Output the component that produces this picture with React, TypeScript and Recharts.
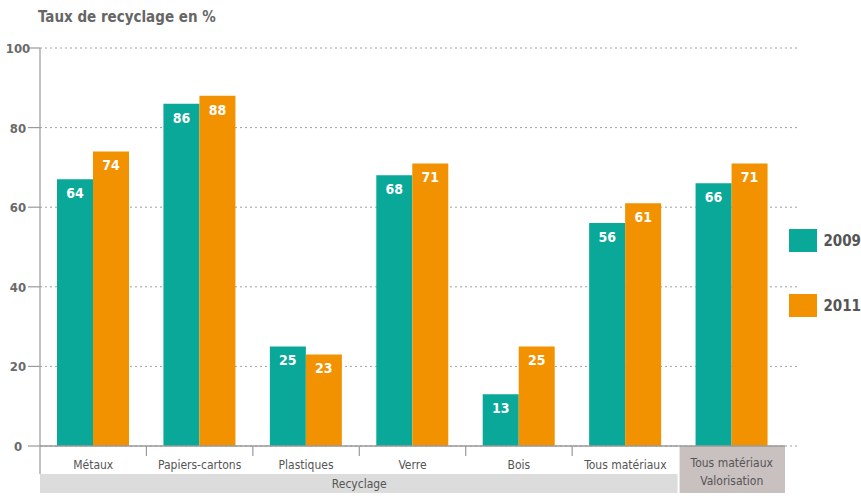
import React from "react";
import {BarChart, Bar, XAxis, YAxis, CartesianGrid, LabelList, Legend} from "recharts";

const categories = ["Métaux", "Papiers-cartons", "Plastiques", "Verre", "Bois", "Tous matériaux", "Tous matériaux|Valorisation"];
const values2009 = [67, 86, 25, 68, 13, 56, 66];
const labels2009 = [64, 86, 25, 68, 13, 56, 66];
const values2011 = [74, 88, 23, 71, 25, 61, 71];
const yTicks = [0, 20, 40, 60, 80, 100];
const groupLabel = "Recyclage";

const W = 861;
const H = 496;
const TOP = 48;
const BOTTOM = 446;
const LEFT = 40;
const RIGHT_END = 785;
const BAND = (RIGHT_END - LEFT) / categories.length;
const FONT = "'Liberation Sans Narrow', 'DejaVu Sans Condensed', sans-serif";
const TEAL = "#0aa898";
const ORANGE = "#f39200";

const data = categories.map((c, i) => ({
    name: c,
    v2009: values2009[i],
    l2009: labels2009[i],
    v2011: values2011[i],
}));

const YTick = (props: any) => {
    const {y, payload} = props;
    return (
        <g>
            <line x1={28} x2={LEFT} y1={y} y2={y} stroke="#9a9a9a" strokeWidth={1.2} />
            <text x={18} y={y} dy={5} textAnchor="middle" fontFamily={FONT} fontSize={13} fontWeight="bold" fill="#6a6a6a">
                {payload.value}
            </text>
        </g>
    );
};

const XTick = (props: any) => {
    const {x, payload, index} = props;
    const left = x - BAND / 2;
    const lines = String(payload.value).split("|");
    const last = index === categories.length - 1;
    return (
        <g>
            {index === 0 && (
                <g>
                    <rect x={left} y={474} width={BAND * 6 - 1} height={19} fill="#dcdcdc" />
                    <text x={left + BAND * 3} y={488} textAnchor="middle" fontFamily={FONT} fontSize={12} fill="#555">
                        {groupLabel}
                    </text>
                    <line x1={left} x2={left} y1={BOTTOM} y2={474} stroke="#9a9a9a" strokeWidth={1.2} />
                </g>
            )}
            {last && <rect x={left + 1} y={BOTTOM} width={BAND - 1} height={47} fill="#c9c0c0" />}
            {index > 0 && !last && <line x1={left} x2={left} y1={BOTTOM} y2={BOTTOM + 10} stroke="#9a9a9a" strokeWidth={1.2} />}
            <line x1={left} x2={left + BAND} y1={BOTTOM} y2={BOTTOM} stroke="#9a9a9a" strokeWidth={1.4} />
            {lines.length === 1 ? (
                <text x={x} y={469} textAnchor="middle" fontFamily={FONT} fontSize={12} fill="#555">{lines[0]}</text>
            ) : (
                <text x={x} textAnchor="middle" fontFamily={FONT} fontSize={12} fill="#555">
                    <tspan x={x} y={467}>{lines[0]}</tspan>
                    <tspan x={x} y={485}>{lines[1]}</tspan>
                </text>
            )}
        </g>
    );
};

const LegendBox = () => (
    <div style={{fontFamily: FONT}}>
        {[["2009", TEAL], ["2011", ORANGE]].map(([label, color], i) => (
            <div key={label} style={{display: "flex", alignItems: "center", height: 23, marginBottom: i === 0 ? 42 : 0}}>
                <div style={{width: 31, height: 23, background: color}} />
                <span style={{marginLeft: 6, fontSize: 15, fontWeight: "bold", color: "#555"}}>{label}</span>
            </div>
        ))}
    </div>
);

export default function App() {
    return (
        <div style={{position: "absolute", left: 0, top: 0, width: W, height: H, background: "#fff"}}>
            <div style={{position: "absolute", left: 38, top: 8, fontFamily: FONT, fontSize: 15, fontWeight: "bold", color: "#666"}}>
                Taux de recyclage en %
            </div>
            <BarChart width={W} height={H} data={data} margin={{top: TOP, right: 61, left: 0, bottom: 0}} barCategoryGap={17} barGap={0}>
                <CartesianGrid vertical={false} stroke="#a0a0a0" strokeDasharray="2 3" />
                <XAxis dataKey="name" height={H - BOTTOM} padding={{left: 0, right: 15}} axisLine={false} tickLine={false} tick={<XTick />} interval={0} />
                <YAxis width={LEFT} domain={[0, 100]} ticks={yTicks} axisLine={{stroke: "#9a9a9a", strokeWidth: 1.2}} tickLine={false} tick={<YTick />} />
                <Legend layout="horizontal" verticalAlign="middle" content={<LegendBox />} wrapperStyle={{left: 789, top: 229, width: 72}} />
                <Bar dataKey="v2009" name="2009" fill={TEAL} isAnimationActive={false}>
                    <LabelList dataKey="l2009" position="insideTop" offset={9} fill="#fff" fontFamily={FONT} fontSize={14} fontWeight="bold" />
                </Bar>
                <Bar dataKey="v2011" name="2011" fill={ORANGE} isAnimationActive={false}>
                    <LabelList dataKey="v2011" position="insideTop" offset={9} fill="#fff" fontFamily={FONT} fontSize={14} fontWeight="bold" />
                </Bar>
            </BarChart>
        </div>
    );
}
